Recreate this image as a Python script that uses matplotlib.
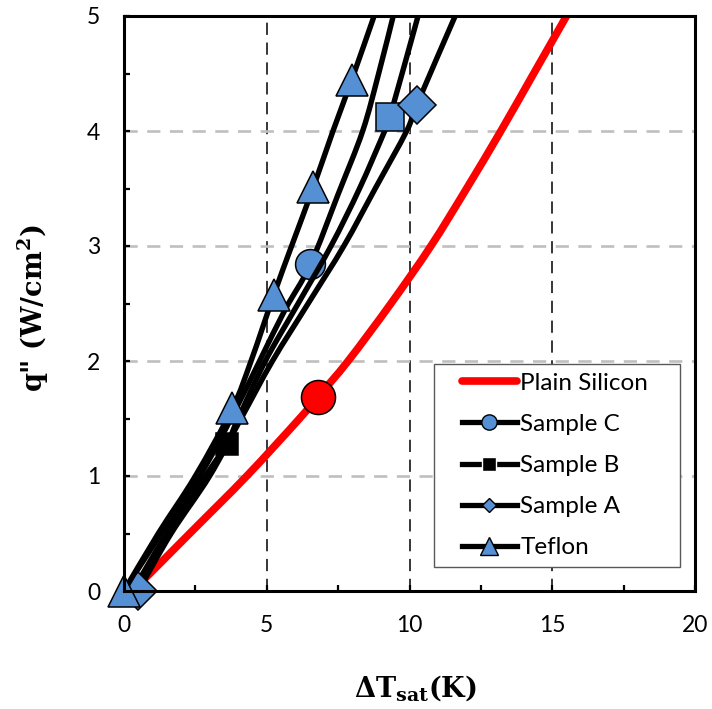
import matplotlib
matplotlib.use("Agg")
import matplotlib.pyplot as plt
from matplotlib.path import Path
from matplotlib.patches import PathPatch
from matplotlib.lines import Line2D
from matplotlib.legend_handler import HandlerLine2D

# ---- data: wall superheat (K) vs heat flux (W/cm^2) ----
silicon_dt = [0.3, 2.3, 4.3, 6.15, 6.8, 7.85, 9.35, 10.75, 12.0, 13.2, 14.35, 15.5]
silicon_q = [0.0, 0.5, 1.0, 1.5, 1.69, 2.0, 2.5, 3.0, 3.5, 4.0, 4.5, 5.0]
silicon_marks = [4]

sample_c_dt = [0.0, 1.3, 2.65, 3.75, 4.75, 5.65, 6.53, 7.5, 8.36, 8.92, 9.43]
sample_c_q = [0.0, 0.5, 1.0, 1.5, 2.0, 2.45, 2.84, 3.45, 4.0, 4.5, 5.0]
sample_c_marks = [6]

sample_b_dt = [0.3, 1.5, 2.85, 3.6, 4.0, 4.95, 6.1, 7.25, 8.25, 9.13, 9.31, 10.3]
sample_b_q = [0.0, 0.5, 1.0, 1.28, 1.5, 2.0, 2.5, 3.0, 3.5, 4.0, 4.12, 5.0]
sample_b_marks = [3, 10]
sample_b_mark_colors = ["black", "#5590d5"]
sample_b_mark_sizes = [16.5, 19.5]

sample_a_dt = [0.5, 1.65, 3.0, 4.1, 5.2, 6.45, 7.7, 8.8, 9.9, 10.26, 11.6]
sample_a_q = [0.0, 0.5, 1.0, 1.5, 2.0, 2.5, 3.0, 3.5, 4.0, 4.23, 5.0]
sample_a_marks = [0, 9]

teflon_dt = [0.0, 1.2, 2.5, 3.8, 4.45, 5.24, 5.87, 6.63, 7.32, 7.97, 8.76]
teflon_q = [0.0, 0.5, 1.0, 1.59, 2.0, 2.57, 3.0, 3.51, 4.0, 4.44, 5.0]
teflon_marks = [0, 3, 5, 7, 9]

x_ticks = [0, 5, 10, 15, 20]
y_ticks = [0, 1, 2, 3, 4, 5]

BLUE = "#5590d5"
RED = "#ff0000"

plt.rcParams["mathtext.fontset"] = "custom"
plt.rcParams["mathtext.rm"] = "DejaVu Serif:bold"
plt.rcParams["mathtext.bf"] = "DejaVu Serif:bold"
plt.rcParams["mathtext.it"] = "DejaVu Serif:bold"

fig = plt.figure(figsize=(7.12, 7.09), dpi=100)
ax = fig.add_axes([124 / 712, 1 - 591 / 709, 571 / 712, 575 / 709])


def smooth_path(xs, ys):
    """Catmull-Rom curve through the points, as cubic Bezier segments."""
    pts = list(zip(xs, ys))
    n = len(pts)
    verts = [pts[0]]
    codes = [Path.MOVETO]
    for i in range(n - 1):
        p0 = pts[i - 1] if i > 0 else pts[i]
        p1 = pts[i]
        p2 = pts[i + 1]
        p3 = pts[i + 2] if i + 2 < n else pts[i + 1]
        c1 = (p1[0] + (p2[0] - p0[0]) / 6, p1[1] + (p2[1] - p0[1]) / 6)
        c2 = (p2[0] - (p3[0] - p1[0]) / 6, p2[1] - (p3[1] - p1[1]) / 6)
        verts += [c1, c2, p2]
        codes += [Path.CURVE4] * 3
    return Path(verts, codes)


def draw_series(xs, ys, color, lw, z):
    ax.add_patch(PathPatch(smooth_path(xs, ys), fill=False, edgecolor=color,
                           lw=lw, capstyle="butt", joinstyle="round", zorder=z))


def draw_marks(xs, ys, idx, marker, sizes, faces, z):
    for i, size, fc in zip(idx, sizes, faces):
        ax.plot([xs[i]], [ys[i]], linestyle="none", marker=marker, markersize=size,
                markerfacecolor=fc, markeredgecolor="black", markeredgewidth=1.1,
                zorder=z, clip_on=False)


# series drawn in legend order, each line followed by its markers
draw_series(silicon_dt, silicon_q, RED, 5.5, 3.0)
draw_marks(silicon_dt, silicon_q, silicon_marks, "o", [24.5], [RED], 3.1)

draw_series(sample_c_dt, sample_c_q, "black", 3.9, 4.0)
draw_marks(sample_c_dt, sample_c_q, sample_c_marks, "o", [21.5], [BLUE], 4.1)

draw_series(sample_b_dt, sample_b_q, "black", 3.9, 5.0)
draw_marks(sample_b_dt, sample_b_q, sample_b_marks, "s", sample_b_mark_sizes,
           sample_b_mark_colors, 5.1)

draw_series(sample_a_dt, sample_a_q, "black", 3.9, 6.0)
draw_marks(sample_a_dt, sample_a_q, sample_a_marks, "D", [19] * 2, [BLUE] * 2, 6.1)

draw_series(teflon_dt, teflon_q, "black", 3.9, 7.0)
draw_marks(teflon_dt, teflon_q, teflon_marks, "^", [23] * 5, [BLUE] * 5, 7.1)

# axes, ticks and grid
ax.set_xlim(0, 20)
ax.set_ylim(0, 5)
ax.set_xticks(x_ticks)
ax.set_yticks(y_ticks)
ax.set_xticks([2.5, 7.5, 12.5, 17.5], minor=True)
ax.set_yticks([0.5, 1.5, 2.5, 3.5, 4.5], minor=True)
ax.tick_params(which="both", direction="in", length=4, width=1.6, color="black")
ax.tick_params(axis="x", which="major", pad=17, labelsize=16.5)
ax.tick_params(axis="y", which="major", pad=17, labelsize=16.5)
for lab in ax.get_xticklabels() + ax.get_yticklabels():
    lab.set_fontfamily("Lato")

for s in ax.spines.values():
    s.set_linewidth(2.2)
    s.set_zorder(20)

ax.xaxis.grid(True, which="major", color="black", lw=1.1, linestyle=(0, (8, 5)))
ax.yaxis.grid(True, which="major", color="#bfbfbf", lw=1.9, linestyle=(0, (5, 3.6)))
ax.set_axisbelow(True)

label_font = {"family": "DejaVu Serif", "weight": "bold", "size": 19.5}
ax.set_xlabel(r"ΔT$_{\mathrm{sat}}$(K)", fontdict=label_font, va="center")
ax.xaxis.set_label_coords((415 - 124) / 571, (591 - 688) / 575)
ax.set_ylabel(r'q" (W/cm$^{2}$)', fontdict=label_font, va="center")
ax.yaxis.set_label_coords((33 - 124) / 571, (591 - 308) / 575)

handles = [
    Line2D([], [], color=RED, lw=5.5, solid_capstyle="round"),
    Line2D([], [], color="black", lw=3.8, marker="o", markersize=11,
           markerfacecolor=BLUE, markeredgecolor="black", markeredgewidth=1),
    Line2D([], [], color="black", lw=3.8, marker="s", markersize=9.5,
           markerfacecolor="black", markeredgecolor="white", markeredgewidth=1),
    Line2D([], [], color="black", lw=3.8, marker="D", markersize=7.6,
           markerfacecolor=BLUE, markeredgecolor="black", markeredgewidth=1),
    Line2D([], [], color="black", lw=3.8, marker="^", markersize=13,
           markerfacecolor=BLUE, markeredgecolor="black", markeredgewidth=1),
]
labels = ["Plain Silicon", "Sample C", "Sample B", "Sample A", "Teflon"]
leg_fs = 17.5
leg = ax.legend(handles, labels, loc="lower left", mode="expand",
                bbox_to_anchor=((434 - 124) / 571, (591 - 567) / 575,
                                (680 - 434) / 571, 0.3),
                prop={"family": "Lato", "size": leg_fs}, frameon=True,
                fancybox=False, edgecolor="#595959", framealpha=1,
                handlelength=3.05, handletextpad=0.15, labelspacing=0.83,
                borderpad=0.35, borderaxespad=0,
                handler_map={Line2D: HandlerLine2D(xpad=0.8)})
leg.get_frame().set_linewidth(1.0)
leg.set_zorder(30)

fig.savefig("out.png", dpi=100)
